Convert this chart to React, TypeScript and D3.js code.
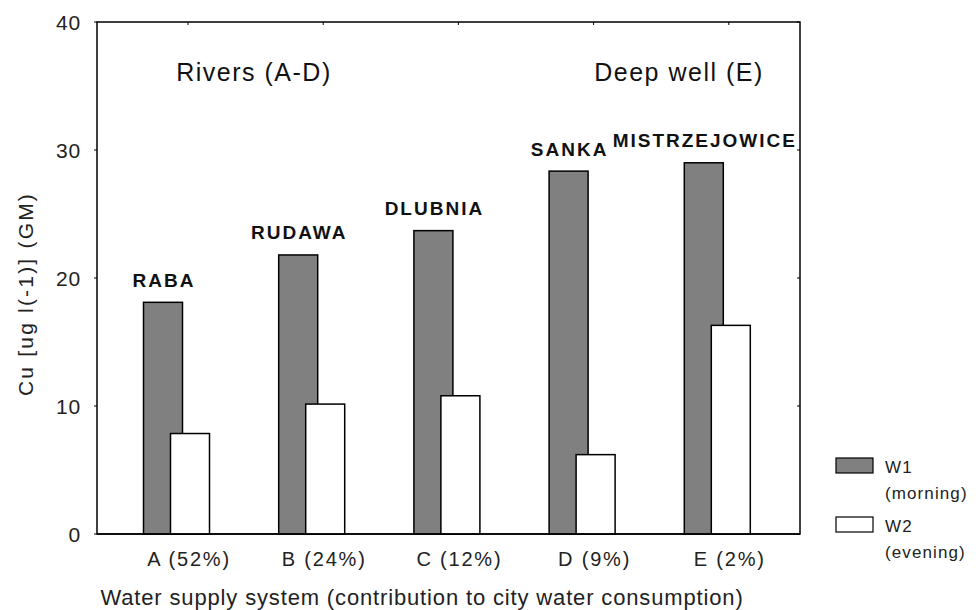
import React from "react";
import * as d3 from "d3";

const categories = ["A (52%)", "B (24%)", "C (12%)", "D (9%)", "E (2%)"];
const siteNames = ["RABA", "RUDAWA", "DLUBNIA", "SANKA", "MISTRZEJOWICE"];
const w1Values = [18.1, 21.8, 23.7, 28.35, 29.0];
const w2Values = [7.85, 10.15, 10.8, 6.2, 16.3];
const yTicks = [0, 10, 20, 30, 40];
const legendItems = [
  { key: "W1", sub: "(morning)", fill: "#808080" },
  { key: "W2", sub: "(evening)", fill: "#ffffff" },
];

export default function App() {
  const W = 976, H = 610;
  const left = 97, right = 800, top = 22, bottom = 534;
  const y = d3.scaleLinear().domain([0, 40]).range([bottom, top]);
  const step = 135.2;
  const x = d3.scaleBand().domain(categories).range([143.5, 143.5 + step * 5]).paddingInner(0);
  const w1W = 39, w2Off = 27, w2W = 39;
  const font = "Arial, 'Liberation Sans', sans-serif";
  const txt = "#222";

  return (
    <svg width={W} height={H} style={{ position: "absolute", left: 0, top: 0 }} fontFamily={font}>
      <rect x={0} y={0} width={W} height={H} fill="#fff" />
      <rect x={left} y={top} width={right - left} height={bottom - top} fill="none" stroke="#000" strokeWidth={1.5} />
      {yTicks.map((t) => (
        <g key={t}>
          <line x1={left - 3} x2={left} y1={y(t)} y2={y(t)} stroke="#000" />
          <line x1={right - 3} x2={right} y1={y(t)} y2={y(t)} stroke="#000" />
          <text x={81} y={y(t)} dy="0.36em" textAnchor="end" fontSize={21} letterSpacing={0.8} fill={txt}>{t}</text>
        </g>
      ))}
      {categories.map((c, i) => {
        const x0 = x(c)!;
        const cx = x0 + 44.5;
        return (
          <g key={c}>
            <rect x={x0} y={y(w1Values[i])} width={w1W} height={y(0) - y(w1Values[i])} fill="#808080" stroke="#000" strokeWidth={1.5} />
            <rect x={x0 + w2Off} y={y(w2Values[i])} width={w2W} height={y(0) - y(w2Values[i])} fill="#fff" stroke="#000" strokeWidth={1.5} />
            <text x={x0 + w1W / 2 + 1} y={y(w1Values[i]) - 15.5} textAnchor="middle" fontSize={19} fontWeight="bold" letterSpacing={2} fill="#111">{siteNames[i]}</text>
            <line x1={cx} x2={cx} y1={top} y2={top + 3} stroke="#000" />
            <text x={cx + 1} y={566} textAnchor="middle" fontSize={20} letterSpacing={1.8} fill={txt}>{c}</text>
          </g>
        );
      })}
      <line x1={left} x2={right} y1={bottom} y2={bottom} stroke="#000" strokeWidth={1.5} />
      <text x={254} y={81} textAnchor="middle" fontSize={25} letterSpacing={1.5} fill="#111">Rivers (A-D)</text>
      <text x={679} y={81} textAnchor="middle" fontSize={25} letterSpacing={1.5} fill="#111">Deep well (E)</text>
      <text transform={`translate(33,294) rotate(-90)`} textAnchor="middle" fontSize={21} letterSpacing={2.2} fill={txt}>Cu [ug l(-1)] (GM)</text>
      <text x={422} y={605} textAnchor="middle" fontSize={22} letterSpacing={0.85} fill={txt}>Water supply system (contribution to city water consumption)</text>
      {legendItems.map((d, i) => (
        <g key={d.key} transform={`translate(836,${458 + i * 59})`}>
          <rect x={0} y={0} width={37} height={15} fill={d.fill} stroke="#000" strokeWidth={1.2} />
          <text x={49} y={15} fontSize={17} letterSpacing={1.1} fill={txt}>{d.key}</text>
          <text x={49} y={41} fontSize={17} letterSpacing={1.1} fill={txt}>{d.sub}</text>
        </g>
      ))}
    </svg>
  );
}
